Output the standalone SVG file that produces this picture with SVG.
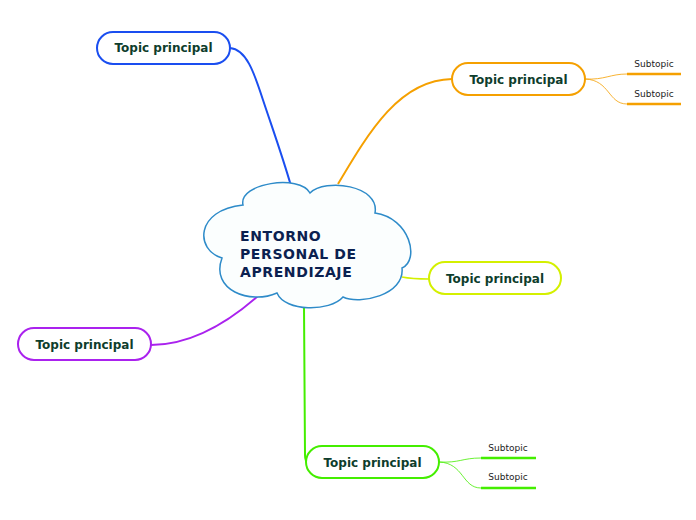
<svg xmlns="http://www.w3.org/2000/svg" width="696" height="520" viewBox="0 0 696 520">
<style>
.topic rect{fill:#fff;stroke-width:2}
.topic text{font-family:"DejaVu Sans",Verdana,sans-serif;font-weight:bold;font-size:12px;fill:#0e3d2c;text-anchor:middle}
.sub text{font-family:"DejaVu Sans",Verdana,sans-serif;font-size:9px;fill:#222;text-anchor:middle}
.conn path{fill:none}
</style>
<rect width="696" height="520" fill="#fff"/>
<g id="connectors" class="conn">
<path d="M230,48 C246,49 254,72 263,100 C273,130 283,158 291,186" stroke="#1a4ef0" stroke-width="2"/>
<path d="M338,184 C370,130 400,80 452,79" stroke="#f5a000" stroke-width="2"/>
<path d="M402,277 C412,279 420,279 429,279" stroke="#d4f000" stroke-width="1.5"/>
<path d="M151,345 C190,345 225,325 258,296" stroke="#aa22ee" stroke-width="2"/>
<path d="M304,306 L305,455 C305,460 306,462 308,462" stroke="#44ee00" stroke-width="2"/>
<path d="M585,79 C605,80 610,74 627,74" stroke="#f5a000" stroke-width="0.8"/>
<path d="M585,79 C610,80 608,104 627,104" stroke="#f5a000" stroke-width="0.8"/>
<path d="M439,462 C460,463 462,458 481,458" stroke="#44ee00" stroke-width="0.8"/>
<path d="M439,462 C464,463 462,488 481,488" stroke="#44ee00" stroke-width="0.8"/>
</g>
<g id="central">
<path d="M243,205 C238,183 300,174 310,193 C325,178 380,185 375,213 C410,218 420,260 402,268 C405,295 360,305 343,297 C330,312 285,312 277,293 C250,305 210,290 222,258 C195,250 195,210 243,205 Z" fill="#fbfefe" stroke="#2e8bc9" stroke-width="1.5"/>
<text font-family="DejaVu Sans,Verdana,sans-serif" font-weight="bold" font-size="14" letter-spacing="0.6" fill="#0b2150"><tspan x="240" y="241">ENTORNO</tspan><tspan x="240" y="259">PERSONAL DE</tspan><tspan x="240" y="277">APRENDIZAJE</tspan></text>
</g>
<g id="topic1" class="topic"><rect x="97" y="32" width="133" height="32" rx="16" stroke="#1a4ef0"/><text x="163.5" y="52">Topic principal</text></g>
<g id="topic2" class="topic"><rect x="452" y="63" width="133" height="32" rx="16" stroke="#f5a000"/><text x="518.5" y="84">Topic principal</text></g>
<g id="topic3" class="topic"><rect x="429" y="262" width="132" height="32" rx="16" stroke="#d4f000"/><text x="495" y="283">Topic principal</text></g>
<g id="topic4" class="topic"><rect x="18" y="328" width="133" height="32" rx="16" stroke="#aa22ee"/><text x="84.5" y="349">Topic principal</text></g>
<g id="topic5" class="topic"><rect x="306" y="446" width="133" height="32" rx="16" stroke="#44ee00"/><text x="372.5" y="467">Topic principal</text></g>
<g id="sub1" class="sub"><line x1="627" y1="74" x2="681" y2="74" stroke="#f5a000" stroke-width="2.5"/><text x="654" y="67">Subtopic</text></g>
<g id="sub2" class="sub"><line x1="627" y1="104" x2="681" y2="104" stroke="#f5a000" stroke-width="2.5"/><text x="654" y="97">Subtopic</text></g>
<g id="sub3" class="sub"><line x1="481" y1="458" x2="536" y2="458" stroke="#44ee00" stroke-width="2.5"/><text x="508" y="451">Subtopic</text></g>
<g id="sub4" class="sub"><line x1="481" y1="488" x2="536" y2="488" stroke="#44ee00" stroke-width="2.5"/><text x="508" y="480">Subtopic</text></g>
</svg>
